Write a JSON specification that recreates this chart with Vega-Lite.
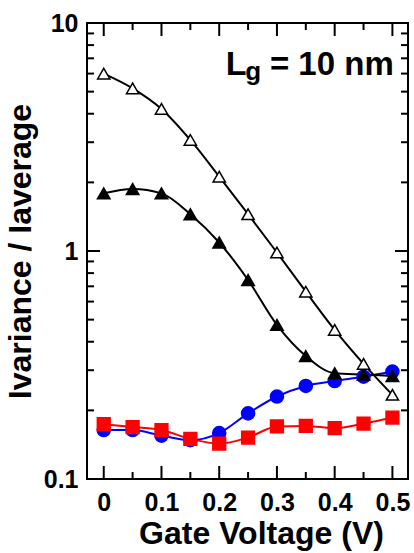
{
  "$schema": "https://vega.github.io/schema/vega-lite/v6.json",
  "autosize": {"type": "none"},
  "padding": {"left": 87, "top": 23, "right": 6, "bottom": 74},
  "width": 321,
  "height": 456,
  "background": "white",
  "config": {
    "view": {"stroke": "black", "strokeWidth": 2},
    "font": "Liberation Sans",
    "axis": {"grid": false, "domain": false, "ticks": false, "labelColor": "black", "titleColor": "black", "labelFont": "Liberation Sans", "titleFont": "Liberation Sans", "labelFontWeight": "bold", "titleFontWeight": "bold"}
  },
  "datasets": {
    "series": [
      {"v": 0, "r": 0.164, "s": "circle"}, {"v": 0.05, "r": 0.164, "s": "circle"}, {"v": 0.1, "r": 0.155, "s": "circle"}, {"v": 0.15, "r": 0.148, "s": "circle"}, {"v": 0.2, "r": 0.159, "s": "circle"}, {"v": 0.25, "r": 0.194, "s": "circle"}, {"v": 0.3, "r": 0.23, "s": "circle"}, {"v": 0.35, "r": 0.256, "s": "circle"}, {"v": 0.4, "r": 0.269, "s": "circle"}, {"v": 0.45, "r": 0.281, "s": "circle"}, {"v": 0.5, "r": 0.296, "s": "circle"},
      {"v": 0, "r": 0.174, "s": "square"}, {"v": 0.05, "r": 0.169, "s": "square"}, {"v": 0.1, "r": 0.164, "s": "square"}, {"v": 0.15, "r": 0.15, "s": "square"}, {"v": 0.2, "r": 0.143, "s": "square"}, {"v": 0.25, "r": 0.152, "s": "square"}, {"v": 0.3, "r": 0.17, "s": "square"}, {"v": 0.35, "r": 0.171, "s": "square"}, {"v": 0.4, "r": 0.167, "s": "square"}, {"v": 0.45, "r": 0.175, "s": "square"}, {"v": 0.5, "r": 0.186, "s": "square"},
      {"v": 0, "r": 1.79, "s": "filled"}, {"v": 0.05, "r": 1.87, "s": "filled"}, {"v": 0.1, "r": 1.79, "s": "filled"}, {"v": 0.15, "r": 1.45, "s": "filled"}, {"v": 0.2, "r": 1.09, "s": "filled"}, {"v": 0.25, "r": 0.746, "s": "filled"}, {"v": 0.3, "r": 0.474, "s": "filled"}, {"v": 0.35, "r": 0.346, "s": "filled"}, {"v": 0.4, "r": 0.291, "s": "filled"}, {"v": 0.45, "r": 0.287, "s": "filled"}, {"v": 0.5, "r": 0.283, "s": "filled"},
      {"v": 0, "r": 6.0, "s": "open"}, {"v": 0.05, "r": 5.17, "s": "open"}, {"v": 0.1, "r": 4.2, "s": "open"}, {"v": 0.15, "r": 3.07, "s": "open"}, {"v": 0.2, "r": 2.12, "s": "open"}, {"v": 0.25, "r": 1.45, "s": "open"}, {"v": 0.3, "r": 0.985, "s": "open"}, {"v": 0.35, "r": 0.663, "s": "open"}, {"v": 0.4, "r": 0.451, "s": "open"}, {"v": 0.45, "r": 0.32, "s": "open"}, {"v": 0.5, "r": 0.234, "s": "open"}
    ],
    "xmajor": [{"v": 0}, {"v": 0.1}, {"v": 0.2}, {"v": 0.3}, {"v": 0.4}, {"v": 0.5}],
    "xminor": [{"v": 0.05}, {"v": 0.15}, {"v": 0.25}, {"v": 0.35}, {"v": 0.45}],
    "ymajor": [{"r": 1}],
    "yminor": [{"r": 0.2}, {"r": 0.3}, {"r": 0.4}, {"r": 0.5}, {"r": 0.6}, {"r": 0.7}, {"r": 0.8}, {"r": 0.9}, {"r": 2}, {"r": 3}, {"r": 4}, {"r": 5}, {"r": 6}, {"r": 7}, {"r": 8}, {"r": 9}],
    "label": [{"v": 0.2114, "r": 5.92, "t": "L"}],
    "sub": [{"v": 0.2451, "r": 5.62, "t": "g"}],
    "rest": [{"v": 0.5023, "r": 5.92, "t": "= 10 nm"}]
  },
  "layer": [
    {
      "data": {"name": "series"},
      "mark": {"type": "line", "interpolate": "monotone", "strokeWidth": 2},
      "encoding": {
        "x": {"field": "v", "type": "quantitative", "scale": {"domain": [-0.029, 0.527], "nice": false, "zero": false},
              "axis": {"orient": "bottom", "values": [0, 0.1, 0.2, 0.3, 0.4, 0.5], "format": ".1~f", "labelFontSize": 25, "labelPadding": 11, "title": "Gate Voltage (V)", "titleFontSize": 32, "titlePadding": 3, "titleX": 174}},
        "y": {"field": "r", "type": "quantitative", "scale": {"type": "log", "domain": [0.1, 10], "nice": false},
              "axis": {"orient": "left", "values": [0.1, 1, 10], "format": "~g", "labelFontSize": 25, "labelPadding": 9, "title": "Ivariance / Iaverage", "titleFontSize": 32, "titlePadding": 6}},
        "color": {"field": "s", "type": "nominal", "scale": {"domain": ["circle", "square", "filled", "open"], "range": ["#0000ff", "#ff0000", "black", "black"]}, "legend": null},
        "detail": {"field": "s"}
      }
    },
    {
      "data": {"name": "series"},
      "mark": {"type": "point", "filled": true, "strokeWidth": 1.5, "opacity": 1},
      "encoding": {
        "x": {"field": "v", "type": "quantitative"},
        "y": {"field": "r", "type": "quantitative"},
        "shape": {"field": "s", "type": "nominal", "scale": {"domain": ["circle", "square", "filled", "open"], "range": ["circle", "square", "triangle-up", "triangle-up"]}, "legend": null},
        "fill": {"field": "s", "type": "nominal", "scale": {"domain": ["circle", "square", "filled", "open"], "range": ["#0000ff", "#ff0000", "black", "white"]}, "legend": null},
        "stroke": {"field": "s", "type": "nominal", "scale": {"domain": ["circle", "square", "filled", "open"], "range": ["#0000ff", "#ff0000", "black", "black"]}, "legend": null},
        "size": {"field": "s", "type": "nominal", "scale": {"domain": ["circle", "square", "filled", "open"], "range": [170, 150, 190, 200]}, "legend": null}
      }
    },
    {
      "data": {"name": "xmajor"},
      "mark": {"type": "tick", "orient": "vertical", "thickness": 2, "size": 26, "color": "black", "opacity": 1, "clip": true},
      "encoding": {"x": {"field": "v", "type": "quantitative"}, "y": {"datum": 0.1}}
    },
    {
      "data": {"name": "xminor"},
      "mark": {"type": "tick", "orient": "vertical", "thickness": 2, "size": 14, "color": "black", "opacity": 1, "clip": true},
      "encoding": {"x": {"field": "v", "type": "quantitative"}, "y": {"datum": 0.1}}
    },
    {
      "data": {"name": "xmajor"},
      "mark": {"type": "tick", "orient": "vertical", "thickness": 2, "size": 26, "color": "black", "opacity": 1, "clip": true},
      "encoding": {"x": {"field": "v", "type": "quantitative"}, "y": {"datum": 10}}
    },
    {
      "data": {"name": "xminor"},
      "mark": {"type": "tick", "orient": "vertical", "thickness": 2, "size": 14, "color": "black", "opacity": 1, "clip": true},
      "encoding": {"x": {"field": "v", "type": "quantitative"}, "y": {"datum": 10}}
    },
    {
      "data": {"name": "ymajor"},
      "mark": {"type": "tick", "orient": "horizontal", "thickness": 2, "size": 26, "color": "black", "opacity": 1, "clip": true},
      "encoding": {"y": {"field": "r", "type": "quantitative"}, "x": {"datum": -0.029}}
    },
    {
      "data": {"name": "yminor"},
      "mark": {"type": "tick", "orient": "horizontal", "thickness": 2, "size": 14, "color": "black", "opacity": 1, "clip": true},
      "encoding": {"y": {"field": "r", "type": "quantitative"}, "x": {"datum": -0.029}}
    },
    {
      "data": {"name": "ymajor"},
      "mark": {"type": "tick", "orient": "horizontal", "thickness": 2, "size": 26, "color": "black", "opacity": 1, "clip": true},
      "encoding": {"y": {"field": "r", "type": "quantitative"}, "x": {"datum": 0.527}}
    },
    {
      "data": {"name": "yminor"},
      "mark": {"type": "tick", "orient": "horizontal", "thickness": 2, "size": 14, "color": "black", "opacity": 1, "clip": true},
      "encoding": {"y": {"field": "r", "type": "quantitative"}, "x": {"datum": 0.527}}
    },
    {
      "data": {"name": "label"},
      "mark": {"type": "text", "align": "left", "baseline": "alphabetic", "fontSize": 34, "fontWeight": "bold", "font": "Liberation Sans", "color": "black"},
      "encoding": {"x": {"field": "v", "type": "quantitative"}, "y": {"field": "r", "type": "quantitative"}, "text": {"field": "t"}}
    },
    {
      "data": {"name": "sub"},
      "mark": {"type": "text", "align": "left", "baseline": "alphabetic", "fontSize": 26, "fontWeight": "bold", "font": "Liberation Sans", "color": "black"},
      "encoding": {"x": {"field": "v", "type": "quantitative"}, "y": {"field": "r", "type": "quantitative"}, "text": {"field": "t"}}
    },
    {
      "data": {"name": "rest"},
      "mark": {"type": "text", "align": "right", "baseline": "alphabetic", "fontSize": 33, "fontWeight": "bold", "font": "Liberation Sans", "color": "black"},
      "encoding": {"x": {"field": "v", "type": "quantitative"}, "y": {"field": "r", "type": "quantitative"}, "text": {"field": "t"}}
    }
  ]
}
